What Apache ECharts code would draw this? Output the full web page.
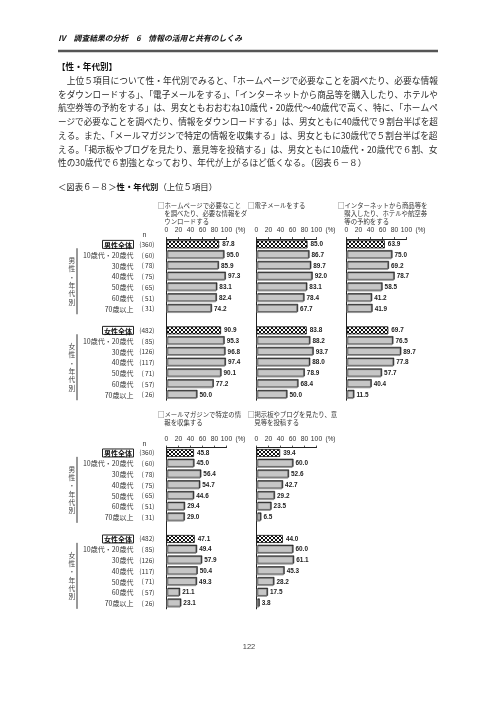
<!DOCTYPE html>
<html><head><meta charset="utf-8">
<script src="https://cdn.jsdelivr.net/npm/echarts@6/dist/echarts.min.js"></script>
<style>html,body{margin:0;padding:0;background:#fff}#c{width:496px;height:702px}</style>
</head><body><div id="c"></div>
<script>
// ---------------- DATA ----------------
const categories = ['男性全体','10歳代・20歳代','30歳代','40歳代','50歳代','60歳代','70歳以上','',
                    '女性全体','10歳代・20歳代','30歳代','40歳代','50歳代','60歳代','70歳以上'];
const sampleSizes = ['(360)','( 60)','( 78)','( 75)','( 65)','( 51)','( 31)','',
                     '(482)','( 85)','(126)','(117)','( 71)','( 57)','( 26)'];
const homepageValues    = [87.8,95.0,85.9,97.3,83.1,82.4,74.2,null,90.9,95.3,96.8,97.4,90.1,77.2,50.0];
const emailValues       = [85.0,86.7,89.7,92.0,83.1,78.4,67.7,null,83.8,88.2,93.7,88.0,78.9,68.4,50.0];
const shoppingValues    = [63.9,75.0,69.2,78.7,58.5,41.2,41.9,null,69.7,76.5,89.7,77.8,57.7,40.4,11.5];
const mailMagazineValues= [45.8,45.0,56.4,54.7,44.6,29.4,29.0,null,47.1,49.4,57.9,50.4,49.3,21.1,23.1];
const bbsBlogValues     = [39.4,60.0,52.6,42.7,29.2,23.5,6.5,null,44.0,60.0,61.1,45.3,28.2,17.5,3.8];
const xTickValues = [0,20,40,60,80,100];
const homepageTitle = ['□ホームページで必要なこと','を調べたり、必要な情報をダ','ウンロードする'];
const emailTitle = ['□電子メールをする'];
const shoppingTitle = ['□インターネットから商品等を','購入したり、ホテルや航空券','等の予約をする'];
const mailMagazineTitle = ['□メールマガジンで特定の情','報を収集する'];
const bbsBlogTitle = ['□掲示板やブログを見たり、意','見等を投稿する'];
const sideLabels = ['男性・年代別','女性・年代別'];
const headerText = 'Ⅳ　調査結果の分析　6　情報の活用と共有のしくみ';
const sectionHeading = '【性・年代別】';
const paragraphLines = [
  '　上位５項目について性・年代別でみると、「ホームページで必要なことを調べたり、必要な情報',
  'をダウンロードする」、「電子メールをする」、「インターネットから商品等を購入したり、ホテルや',
  '航空券等の予約をする」は、男女ともおおむね10歳代・20歳代～40歳代で高く、特に、「ホームペ',
  'ージで必要なことを調べたり、情報をダウンロードする」は、男女ともに40歳代で９割台半ばを超',
  'える。また、「メールマガジンで特定の情報を収集する」は、男女ともに30歳代で５割台半ばを超',
  'える。「掲示板やブログを見たり、意見等を投稿する」は、男女ともに10歳代・20歳代で６割、女',
  '性の30歳代で６割強となっており、年代が上がるほど低くなる。（図表６－８）'
];
const captionParts = ['＜図表６－８＞','性・年代別','（上位５項目）'];
const pageNumber = '122';
const unitText = '(%)';
const nHeader = 'n';

// ---------------- LAYOUT / STYLE ----------------
const FONT_JP = '"Noto Sans CJK JP","Noto Sans CJK SC",sans-serif';
const FONT_NUM = '"Liberation Sans","DejaVu Sans",sans-serif';
const L = {
  left: 58, right: 438, headerY: 38, ruleY: 51, headingY: 67,
  paraY0: 80.7, paraStep: 13.7, paraFont: 8.6, captionY: 187,
  pageNoX: 249, pageNoY: 647,
  panelLeft: [166.5, 256.5, 346.5], panelWidth: 60,
  chartTop: [239, 447.6], band: 10.75, barWidth: 8,
  sideX: 72, bracketX: 77
};
const chartsDef = [
  {top: L.chartTop[0], panels: [
    {title: homepageTitle, values: homepageValues},
    {title: emailTitle, values: emailValues},
    {title: shoppingTitle, values: shoppingValues}]},
  {top: L.chartTop[1], panels: [
    {title: mailMagazineTitle, values: mailMagazineValues},
    {title: bbsBlogTitle, values: bbsBlogValues}]}
];
const isTotal = i => categories[i].indexOf('全体') >= 0;

function makeHatch(){
  const c = document.createElement('canvas'); c.width = 4; c.height = 4;
  const g = c.getContext('2d');
  g.fillStyle = '#fff'; g.fillRect(0,0,4,4);
  g.fillStyle = '#111';
  for (let i=0;i<4;i++){ g.fillRect(i,i,1,1); g.fillRect(3-i,i,1,1); }
  return c;
}
const hatch = makeHatch();
const totalStyle = {color: {image: hatch, repeat: 'repeat'}, borderColor: '#111', borderWidth: 0.8};
const ageStyle = {color: '#c6c6c6', borderColor: '#666', borderWidth: 0.6,
  shadowColor: 'rgba(20,20,20,0.9)', shadowOffsetX: 1, shadowOffsetY: -1, shadowBlur: 0};

const mctx = document.createElement('canvas').getContext('2d');
function tw(t, font){ mctx.font = font; return mctx.measureText(t).width; }

// ---------------- BUILD OPTION ----------------
const grids = [], xAxes = [], yAxes = [], series = [];
chartsDef.forEach((ch, ci) => {
  ch.panels.forEach((p, pi) => {
    const gi = grids.length;
    ch.panels[pi].gi = gi;
    grids.push({left: L.panelLeft[pi], width: L.panelWidth, top: ch.top,
      height: categories.length * L.band, containLabel: false, outerBoundsMode: 'none'});
    xAxes.push({type: 'value', gridIndex: gi, position: 'top', min: 0, max: 100, interval: 20,
      axisLine: {show: true, lineStyle: {color: '#222', width: 1}},
      axisTick: {show: true, length: 2, lineStyle: {color: '#222', width: 0.8}},
      splitLine: {show: false},
      axisLabel: {fontSize: 6.8, fontFamily: FONT_NUM, color: '#333', margin: 5,
        formatter: v => xTickValues.indexOf(v) >= 0 ? String(v) : ''}});
    yAxes.push({type: 'category', gridIndex: gi, inverse: true, data: categories,
      axisLine: {show: true, lineStyle: {color: '#222', width: 1}},
      axisTick: {show: false},
      axisLabel: {show: pi === 0, interval: 0, margin: 12,
        formatter: (val, idx) => {
          if (!val) return '';
          const nm = isTotal(idx) ? '{tot|' + val + '}' : '{nm|' + val + '}';
          return nm + '{n|' + sampleSizes[idx] + '}';
        },
        rich: {
          nm: {fontSize: 7, fontFamily: FONT_JP, color: '#333'},
          tot: {fontSize: 7, fontFamily: FONT_JP, fontWeight: 'bold', color: '#111',
                borderColor: '#222', borderWidth: 1, padding: [1, 1.5, 0, 1.5]},
          n: {fontSize: 6.5, fontFamily: FONT_JP, color: '#333', width: 21, align: 'right'}
        }}});
    series.push({type: 'bar', xAxisIndex: gi, yAxisIndex: gi, barWidth: L.barWidth,
      animation: false,
      data: p.values.map((v, i) => v == null ? null : {value: v, itemStyle: isTotal(i) ? totalStyle : ageStyle}),
      label: {show: true, position: 'right', distance: 3, fontSize: 6.4, fontWeight: 'bold',
        fontFamily: FONT_NUM, color: '#222',
        formatter: q => q.value == null ? '' : Number(q.value).toFixed(1)}});
  });
});

const chart = echarts.init(document.getElementById('c'), null, {renderer: 'canvas'});
chart.setOption({animation: false, grid: grids, xAxis: xAxes, yAxis: yAxes, series: series});

// ---------------- TEXT / DECORATION ----------------
const G = [];
function txt(x, y, text, o){
  o = o || {};
  G.push({type: 'text', x: x, y: y, silent: true, style: Object.assign({
    text: text, fill: '#222', fontSize: 8, fontFamily: FONT_JP,
    textAlign: 'left', textVerticalAlign: 'middle'}, o)});
}
{
  const base = 8.6;
  const w = tw(headerText, 'italic bold ' + base + 'px ' + FONT_JP);
  const fs = Math.min(base, base * 184 / w);
  txt(L.left, L.headerY, headerText, {fontSize: fs, fontWeight: 'bold', fontStyle: 'italic', fill: '#111'});
}
G.push({type: 'line', silent: true, shape: {x1: L.left, y1: L.ruleY, x2: L.right, y2: L.ruleY},
  style: {stroke: '#555', lineWidth: 2.6}});
txt(L.left - 1, L.headingY, sectionHeading, {fontSize: 8.6, fontWeight: 'bold', fill: '#111'});
const fitted = [];
paragraphLines.forEach((line, i) => {
  let fs = L.paraFont;
  if (i < paragraphLines.length - 1) {
    const w = tw(line, L.paraFont + 'px ' + FONT_JP);
    fs = L.paraFont * (L.right - L.left) / w;
    fitted.push(fs);
  } else {
    fs = fitted.reduce((a, b) => a + b, 0) / fitted.length;
  }
  txt(L.left, L.paraY0 + i * L.paraStep, line, {fontSize: fs, fill: '#2a2a2a'});
});
G.push({type: 'text', x: L.left, y: L.captionY, silent: true, style: {
  text: '{a|' + captionParts[0] + '}{b|' + captionParts[1] + '}{a|' + captionParts[2] + '}',
  textVerticalAlign: 'middle', textAlign: 'left',
  rich: {a: {fontSize: 8.4, fontFamily: FONT_JP, fill: '#222', color: '#222'},
         b: {fontSize: 8.4, fontFamily: FONT_JP, fontWeight: 'bold', fill: '#111', color: '#111'}}}});
txt(L.pageNoX, L.pageNoY, pageNumber, {fontSize: 7.5, fontFamily: FONT_NUM, textAlign: 'center', fill: '#444'});

chartsDef.forEach((ch, ci) => {
  const g0 = ch.panels[0].gi;
  const rowY = i => chart.convertToPixel({gridIndex: g0}, [0, i])[1];
  const top = ch.top;
  ch.panels.forEach((p, pi) => {
    const gx = L.panelLeft[pi];
    const n = p.title.length;
    p.title.forEach((t, k) => {
      txt(gx - 8.5 + (k > 0 ? 6.3 : 0), top - 33 + k * 8, t, {fontSize: 6.4, fill: '#333'});
    });
    txt(gx + L.panelWidth + 9, top - 8.5, unitText, {fontSize: 6.4, fontFamily: FONT_NUM, fill: '#333'});
  });
  txt(L.panelLeft[0] - 22, top - 4, nHeader, {fontSize: 7, fontFamily: FONT_NUM, textAlign: 'center', fill: '#333'});
  [[1, 6], [9, 14]].forEach((rng, si) => {
    const y1 = rowY(rng[0]) - L.band / 2 - 1.5;
    const y2 = rowY(rng[1]) + L.band / 2;
    G.push({type: 'line', silent: true, shape: {x1: L.bracketX, y1: y1, x2: L.bracketX, y2: y2},
      style: {stroke: '#333', lineWidth: 1}});
    const chars = sideLabels[si].split('').join('\n');
    txt(L.sideX, (y1 + y2) / 2, chars, {fontSize: 6.8, textAlign: 'center', lineHeight: 8.3, fill: '#444'});
  });
});
chart.setOption({graphic: {elements: G}});
</script></body></html>
